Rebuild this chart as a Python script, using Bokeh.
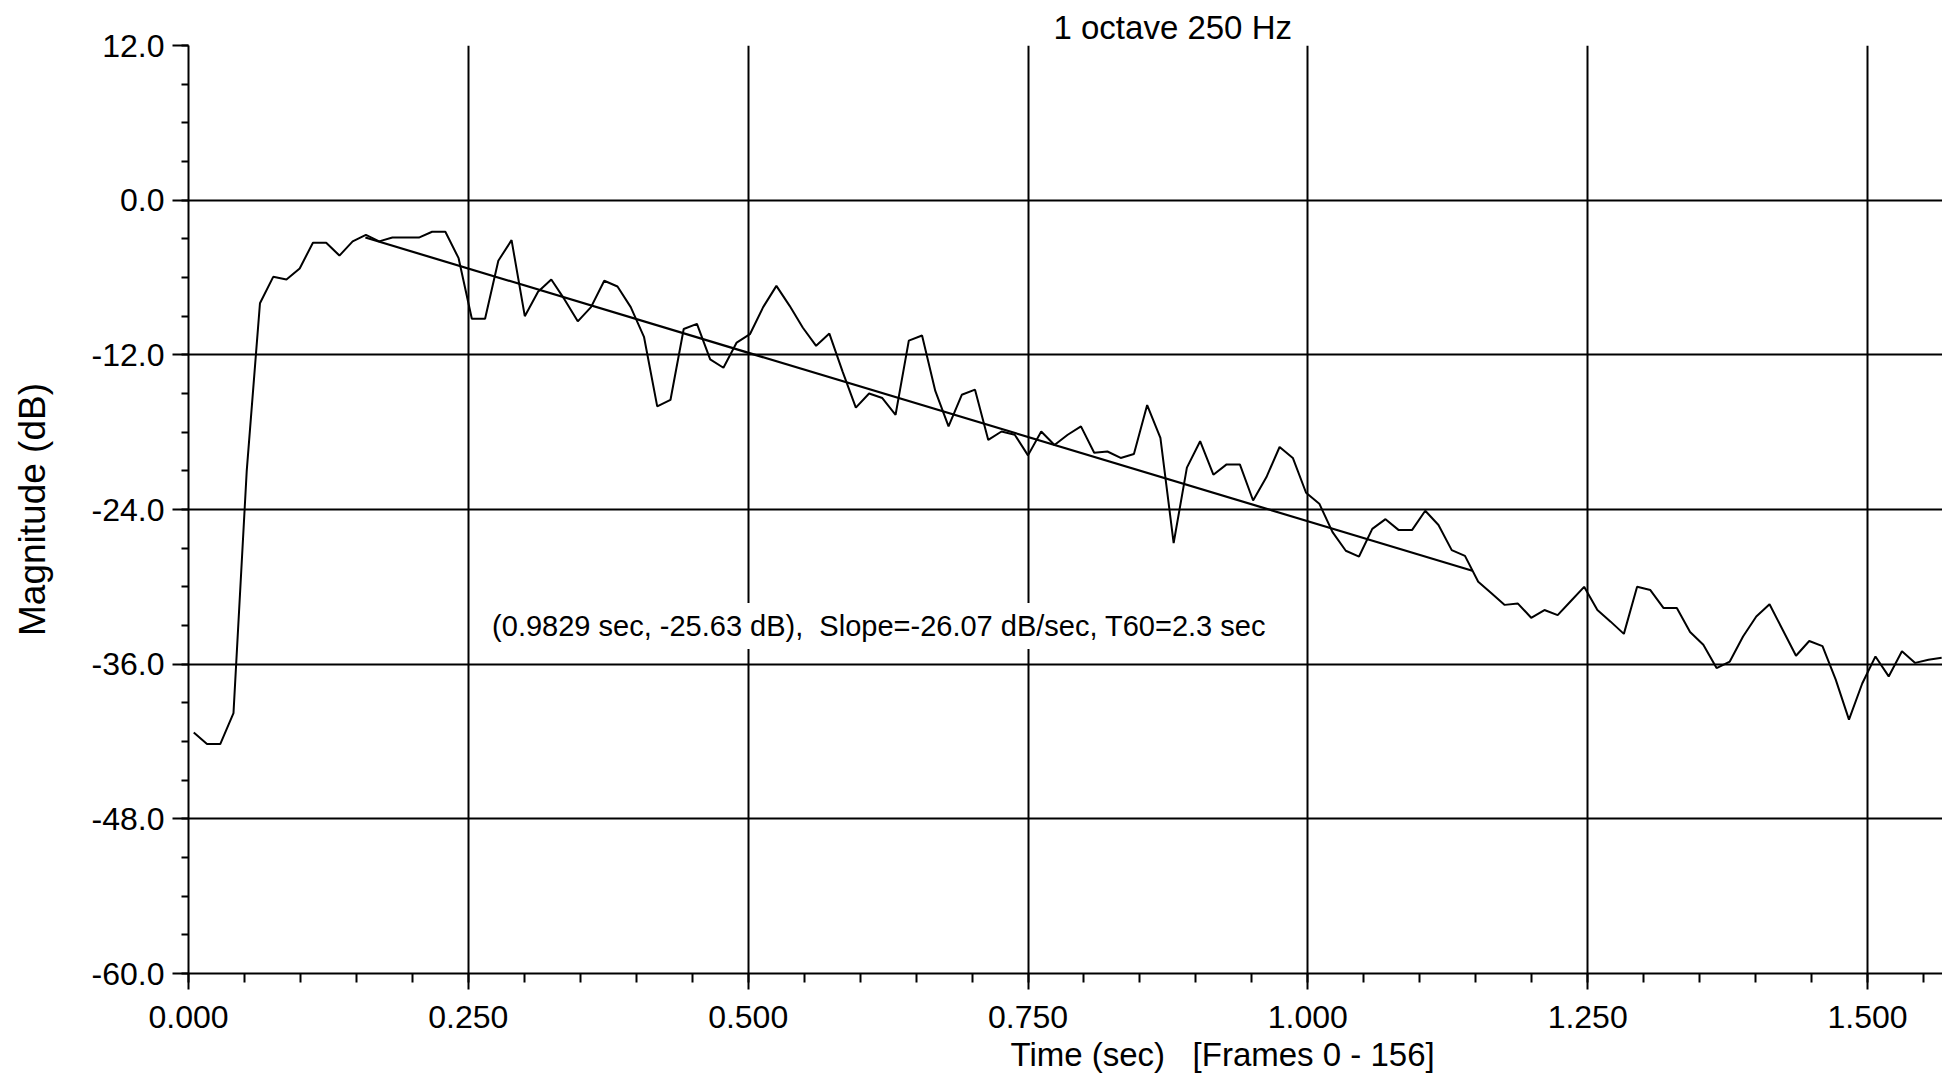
from bokeh.plotting import figure
from bokeh.models import (Range1d, FixedTicker, PrintfTickFormatter, Label, Title)
from bokeh.embed import file_html
from bokeh.resources import INLINE

# ---------------- data ----------------
title_text = "1 octave 250 Hz"
x_label_text = "Time (sec)\u00a0\u00a0\u00a0[Frames 0 - 156]"
y_label_text = "Magnitude (dB)"
fit_text = "(0.9829 sec, -25.63 dB),\u00a0\u00a0Slope=-26.07 dB/sec, T60=2.3 sec"

frame_period = 0.01183      # seconds between analysis frames
frame_offset = 0.0047       # time of first frame

magnitude_db = [
    -41.3, -42.2, -42.2, -39.8, -21.0, -8.0, -5.95, -6.15, -5.3, -3.3,
    -3.3, -4.3, -3.2, -2.7, -3.2, -2.9, -2.9, -2.9, -2.45, -2.45,
    -4.5, -9.2, -9.2, -4.7, -3.1, -9.0, -7.1, -6.15, -7.7, -9.4,
    -8.3, -6.25, -6.7, -8.3, -10.6, -16.0, -15.5, -10.0, -9.6, -12.35,
    -13.0, -11.05, -10.4, -8.3, -6.65, -8.2, -9.9, -11.3, -10.35, -13.3,
    -16.1, -15.0, -15.35, -16.65, -10.9, -10.5, -14.8, -17.55, -15.1, -14.7,
    -18.6, -17.95, -18.2, -19.8, -17.95, -19.0, -18.2, -17.55, -19.6, -19.5,
    -20.0, -19.7, -15.9, -18.45, -26.6, -20.75, -18.7, -21.3, -20.5, -20.5,
    -23.3, -21.5, -19.15, -20.0, -22.7, -23.55, -25.75, -27.2, -27.65, -25.5,
    -24.75, -25.6, -25.6, -24.1, -25.2, -27.15, -27.6, -29.6, -30.5, -31.4,
    -31.3, -32.4, -31.8, -32.2, -31.1, -30.0, -31.8, -32.7, -33.65, -30.0,
    -30.25, -31.65, -31.65, -33.5, -34.5, -36.3, -35.8, -33.85, -32.3, -31.35,
    -33.35, -35.35, -34.2, -34.6, -37.2, -40.3, -37.5, -35.4, -36.95, -35.0,
    -35.9, -35.65, -35.5,
]

fit_time = [0.158, 1.147]
fit_db = [-2.9, -28.75]

x_major_ticks = [0.0, 0.25, 0.5, 0.75, 1.0, 1.25, 1.5]
x_minor_ticks = [round(0.05 * i, 2) for i in range(0, 32)]
y_major_ticks = [12, 0, -12, -24, -36, -48, -60]
y_minor_ticks = list(range(-60, 13, 3))

time_sec = [frame_offset + frame_period * i for i in range(len(magnitude_db))]

FONT = "Liberation Sans"

# ---------------- figure ----------------
p = figure(width=1942, height=1079, output_backend="svg", toolbar_location=None,
           x_range=Range1d(0, 1.567), y_range=Range1d(-60, 12),
           min_border_left=188, min_border_right=0, min_border_top=45,
           min_border_bottom=105)
p.outline_line_color = None
p.background_fill_color = "white"
p.border_fill_color = "white"

# title (placed off-centre, as in the reference)
p.title.text = title_text
p.title.align = "left"
p.title.offset = 865
p.title.text_font = FONT
p.title.text_font_size = "33px"
p.title.text_font_style = "normal"
p.title.text_color = "black"
p.title.standoff = 0
p.title.vertical_align = "bottom"

# axes
for ax in (p.xaxis[0], p.yaxis[0]):
    ax.axis_line_color = "black"
    ax.axis_line_width = 2
    ax.major_tick_line_color = "black"
    ax.major_tick_line_width = 2
    ax.minor_tick_line_color = "black"
    ax.minor_tick_line_width = 2
    ax.major_tick_in = 0
    ax.minor_tick_in = 0
    ax.major_label_text_font = FONT
    ax.major_label_text_font_size = "32px"
    ax.major_label_text_color = "black"

p.xaxis.ticker = FixedTicker(ticks=x_major_ticks, minor_ticks=x_minor_ticks)
p.xaxis.formatter = PrintfTickFormatter(format="%.3f")
p.xaxis.major_tick_out = 16
p.xaxis.minor_tick_out = 9
p.xaxis.major_label_standoff = 16

p.yaxis.ticker = FixedTicker(ticks=y_major_ticks, minor_ticks=y_minor_ticks)
p.yaxis.formatter = PrintfTickFormatter(format="%.1f")
p.yaxis.major_tick_out = 16
p.yaxis.minor_tick_out = 7
p.yaxis.major_label_standoff = 8
p.yaxis.axis_label = y_label_text
p.yaxis.axis_label_text_font = FONT
p.yaxis.axis_label_text_font_size = "37px"
p.yaxis.axis_label_text_font_style = "normal"
p.yaxis.axis_label_text_color = "black"
p.yaxis.axis_label_standoff = 36

# x-axis caption, offset to the right like the reference
p.add_layout(Title(text=x_label_text, align="left", offset=822,
                   text_font=FONT, text_font_size="33px",
                   text_font_style="normal", text_color="black",
                   standoff=10, vertical_align="top"), "below")

# grid
p.xgrid.grid_line_color = "black"
p.xgrid.grid_line_width = 2
p.ygrid.grid_line_color = "black"
p.ygrid.grid_line_width = 2

# data
p.line(time_sec, magnitude_db, line_color="black", line_width=2)
p.line(fit_time, fit_db, line_color="black", line_width=2.2)

# regression annotation with white box over the grid
p.add_layout(Label(x=0.265, y=-33.04, text=fit_text, text_font=FONT,
                   text_font_size="29px", text_color="black",
                   text_baseline="alphabetic", text_align="left",
                   background_fill_color="white", padding=7))

open("out.html", "w").write(file_html(p, INLINE))
